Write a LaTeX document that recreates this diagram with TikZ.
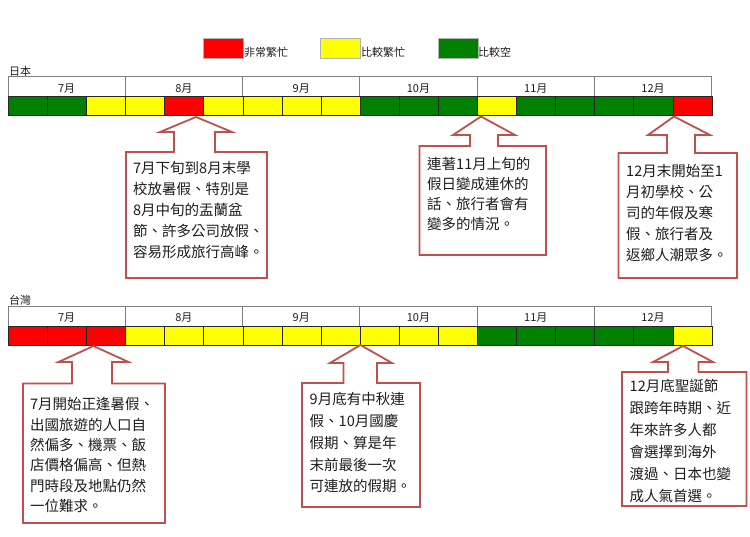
\documentclass[tikz,border=0pt]{standalone}
\usepackage{fontspec}
\setmainfont{Noto Sans CJK TC}
\definecolor{rd}{RGB}{255,0,0}
\definecolor{ye}{RGB}{255,255,0}
\definecolor{gr}{RGB}{0,128,0}
\definecolor{calloutred}{RGB}{192,80,77}
\definecolor{txt}{RGB}{30,30,30}
\begin{document}
\begin{tikzpicture}[x=1pt,y=-1pt,
  cell/.style={draw=black!85, line width=0.6pt, minimum width=39.07pt, minimum height=19.2pt, inner sep=0, anchor=north west},
  hdr/.style={draw=gray, line width=0.8pt},
  mlab/.style={font=\fontsize{11}{12}\selectfont, text=txt, inner sep=0},
  legbox/.style={draw=black!30, line width=0.5pt, minimum width=40pt, minimum height=20pt, inner sep=0, anchor=north west},
  leglab/.style={font=\fontsize{11}{12}\selectfont, text=txt, inner sep=0, anchor=west},
  callout/.style={draw=calloutred, line width=1.8pt, fill=white, line join=miter},
  ctext/.style={font=\fontsize{14.5}{21}\selectfont, align=left, anchor=north west, inner sep=0, text=txt},
]
\useasboundingbox[fill=white] (0,0) rectangle (750,536);

% legend
\node[legbox, fill=rd] (lr) at (203,38) {};
\node[leglab] (lrt) at (244,52) {非常繁忙};
\node[legbox, fill=ye] (ly) at (320,38) {};
\node[leglab] (lyt) at (361,52) {比較繁忙};
\node[legbox, fill=gr] (lg) at (437.5,38) {};
\node[leglab] (lgt) at (478,52) {比較空};

% Japan
\node[leglab] (jp) at (9,71.5) {日本};
\draw[hdr] (8,96) -- (8,76.7) -- (711.7,76.7) -- (711.7,96);
\foreach \i in {1,...,5} \draw[hdr] ({8+117.28*\i},76.7) -- ({8+117.28*\i},96);
\foreach \m [count=\i from 0] in {7,8,9,10,11,12}
  \node[mlab] (jm\i) at ({8+117.28*\i+58.64},88.5) {\m 月};
\foreach \c [count=\i from 0] in {gr,gr,ye,ye,rd,ye,ye,ye,ye,gr,gr,gr,ye,gr,gr,gr,gr,rd}
  \node[cell, fill=\c] (j\i) at ({8+39.093*\i},96) {};

% Taiwan
\node[leglab] (tw) at (9,300) {台灣};
\draw[hdr] (8,325.7) -- (8,306.7) -- (711.7,306.7) -- (711.7,325.7);
\foreach \i in {1,...,5} \draw[hdr] ({8+117.28*\i},306.7) -- ({8+117.28*\i},325.7);
\foreach \m [count=\i from 0] in {7,8,9,10,11,12}
  \node[mlab] (tm\i) at ({8+117.28*\i+58.64},318) {\m 月};
\foreach \c [count=\i from 0] in {rd,rd,rd,ye,ye,ye,ye,ye,ye,ye,ye,ye,gr,gr,gr,gr,gr,ye}
  \node[cell, fill=\c] (t\i) at ({8+39.093*\i},325.7) {};

% Japan callouts
\draw[callout] (196,117) -- (160,132) -- (174,132) -- (174,152) -- (126,152) -- (126,278)
  -- (267,278) -- (267,152) -- (215,152) -- (215,132) -- (232,132) -- cycle;
\node[ctext] (c1) at (133,161) {7月下旬到8月末學\\校放暑假、特別是\\8月中旬的盂蘭盆\\節、許多公司放假、\\容易形成旅行高峰。};

\draw[callout] (481,116.5) -- (453,135) -- (470,135) -- (470,146) -- (419.5,146) -- (419.5,255)
  -- (546,255) -- (546,146) -- (498,146) -- (498,135) -- (515,135) -- cycle;
\node[ctext, font=\fontsize{14.5}{20}\selectfont] (c2) at (427,157) {連著11月上旬的\\假日變成連休的\\話、旅行者會有\\變多的情況。};

\draw[callout] (674,116.5) -- (648,135) -- (667,135) -- (667,153) -- (618.5,153) -- (618.5,278)
  -- (737,278) -- (737,153) -- (695,153) -- (695,135) -- (710,135) -- cycle;
\node[ctext] (c3) at (626,164) {12月末開始至1\\月初學校、公\\司的年假及寒\\假、旅行者及\\返鄉人潮眾多。};

% Taiwan callouts
\draw[callout] (93.5,346) -- (58.5,362) -- (72,362) -- (72,383.5) -- (23,383.5) -- (23,523)
  -- (165,523) -- (165,383.5) -- (112,383.5) -- (112,362) -- (128.5,362) -- cycle;
\node[ctext, font=\fontsize{14.5}{20.3}\selectfont] (c4) at (30,397.5) {7月開始正逢暑假、\\出國旅遊的人口自\\然偏多、機票、飯\\店價格偏高、但熱\\門時段及地點仍然\\一位難求。};

\draw[callout] (360.5,345) -- (330,363) -- (343.5,363) -- (343.5,383) -- (302,383) -- (302,507)
  -- (420,507) -- (420,383) -- (377,383) -- (377,363) -- (392,363) -- cycle;
\node[ctext, font=\fontsize{14.5}{21.7}\selectfont] (c5) at (309.5,392.5) {9月底有中秋連\\假、10月國慶\\假期、算是年\\末前最後一次\\可連放的假期。};

\draw[callout] (683,346) -- (653,362) -- (668,362) -- (668,372) -- (622,372) -- (622,506)
  -- (746.5,506) -- (746.5,372) -- (698.5,372) -- (698.5,362) -- (713,362) -- cycle;
\node[ctext, font=\fontsize{14.5}{22}\selectfont] (c6) at (629.5,379.5) {12月底聖誕節\\跟跨年時期、近\\年來許多人都\\會選擇到海外\\渡過、日本也變\\成人氣首選。};
\end{tikzpicture}
\end{document}
